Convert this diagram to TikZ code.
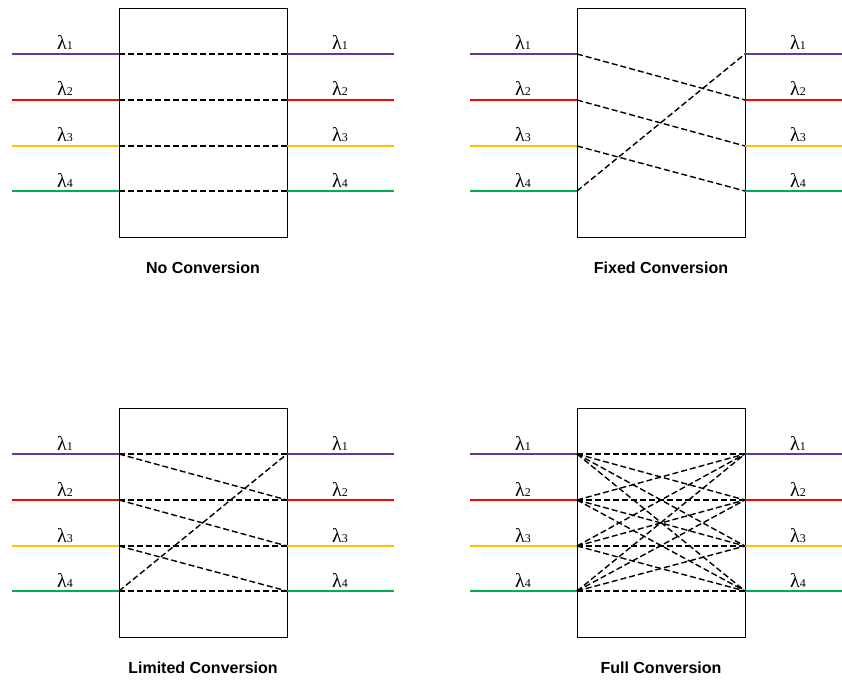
\documentclass[tikz,border=0pt]{standalone}
\usepackage{fontspec}
\setmainfont{Liberation Serif}
\newfontfamily\capfont{Liberation Sans}

\definecolor{wpurple}{HTML}{7030A0}
\definecolor{wred}{HTML}{FF0000}
\definecolor{wyellow}{HTML}{FFC000}
\definecolor{wgreen}{HTML}{00B050}

\tikzset{
  switchbox/.style={draw=black, line width=0.8pt},
  link/.style={draw=black, line width=1.4pt, dash pattern=on 6pt off 3pt},
  fibre/.style={line width=1.4pt},
  lam/.style={font=\fontsize{20}{20}\selectfont, anchor=base, inner sep=0pt},
  caption/.style={font=\capfont\bfseries\fontsize{16}{19}\selectfont, inner sep=0pt}
}

% #1 panel name, #2 x offset, #3 y offset, #4 caption
\newcommand{\wlpanel}[4]{%
  \draw[switchbox] ({#2+119},{#3+8}) rectangle ({#2+287},{#3+237});
  \foreach \i/\yy/\col in {1/54/wpurple, 2/100/wred, 3/146/wyellow, 4/191/wgreen} {
    \coordinate (#1L\i) at ({#2+119},{#3+\yy});
    \coordinate (#1R\i) at ({#2+287},{#3+\yy});
    \coordinate (#1A\i) at ({#2+12},{#3+\yy});
    \coordinate (#1B\i) at ({#2+394},{#3+\yy});
    \draw[fibre, \col] (#1A\i) -- (#1L\i);
    \draw[fibre, \col] (#1R\i) -- (#1B\i);
    \node[lam] (#1la\i) at ({#2+65},{#3+\yy-4}) {λ{\fontsize{12}{12}\selectfont\i}};
    \node[lam] (#1lb\i) at ({#2+340},{#3+\yy-4}) {λ{\fontsize{12}{12}\selectfont\i}};
  }
  \node[caption] (#1cap) at ({#2+203},{#3+268}) {#4};
}

\begin{document}
\begin{tikzpicture}[x=1pt, y=-1pt]
  \useasboundingbox[fill=white] (0,0) rectangle (842,679);

  \wlpanel{n}{0}{0}{No Conversion}
  \wlpanel{f}{458}{0}{Fixed Conversion}
  \wlpanel{l}{0}{400}{Limited Conversion}
  \wlpanel{u}{458}{400}{Full Conversion}

  % no conversion: each wavelength stays on itself
  \foreach \i in {1,...,4} \draw[link] (nL\i) -- (nR\i);

  % fixed conversion: cyclic shift by one
  \foreach \i/\j in {1/2, 2/3, 3/4, 4/1} \draw[link] (fL\i) -- (fR\j);

  % limited conversion: itself or the next wavelength
  \foreach \i/\j in {1/1, 1/2, 2/2, 2/3, 3/3, 3/4, 4/4, 4/1} \draw[link] (lL\i) -- (lR\j);

  % full conversion: any to any
  \foreach \i in {1,...,4}
    \foreach \j in {1,...,4}
      \draw[link] (uL\i) -- (uR\j);
\end{tikzpicture}
\end{document}
